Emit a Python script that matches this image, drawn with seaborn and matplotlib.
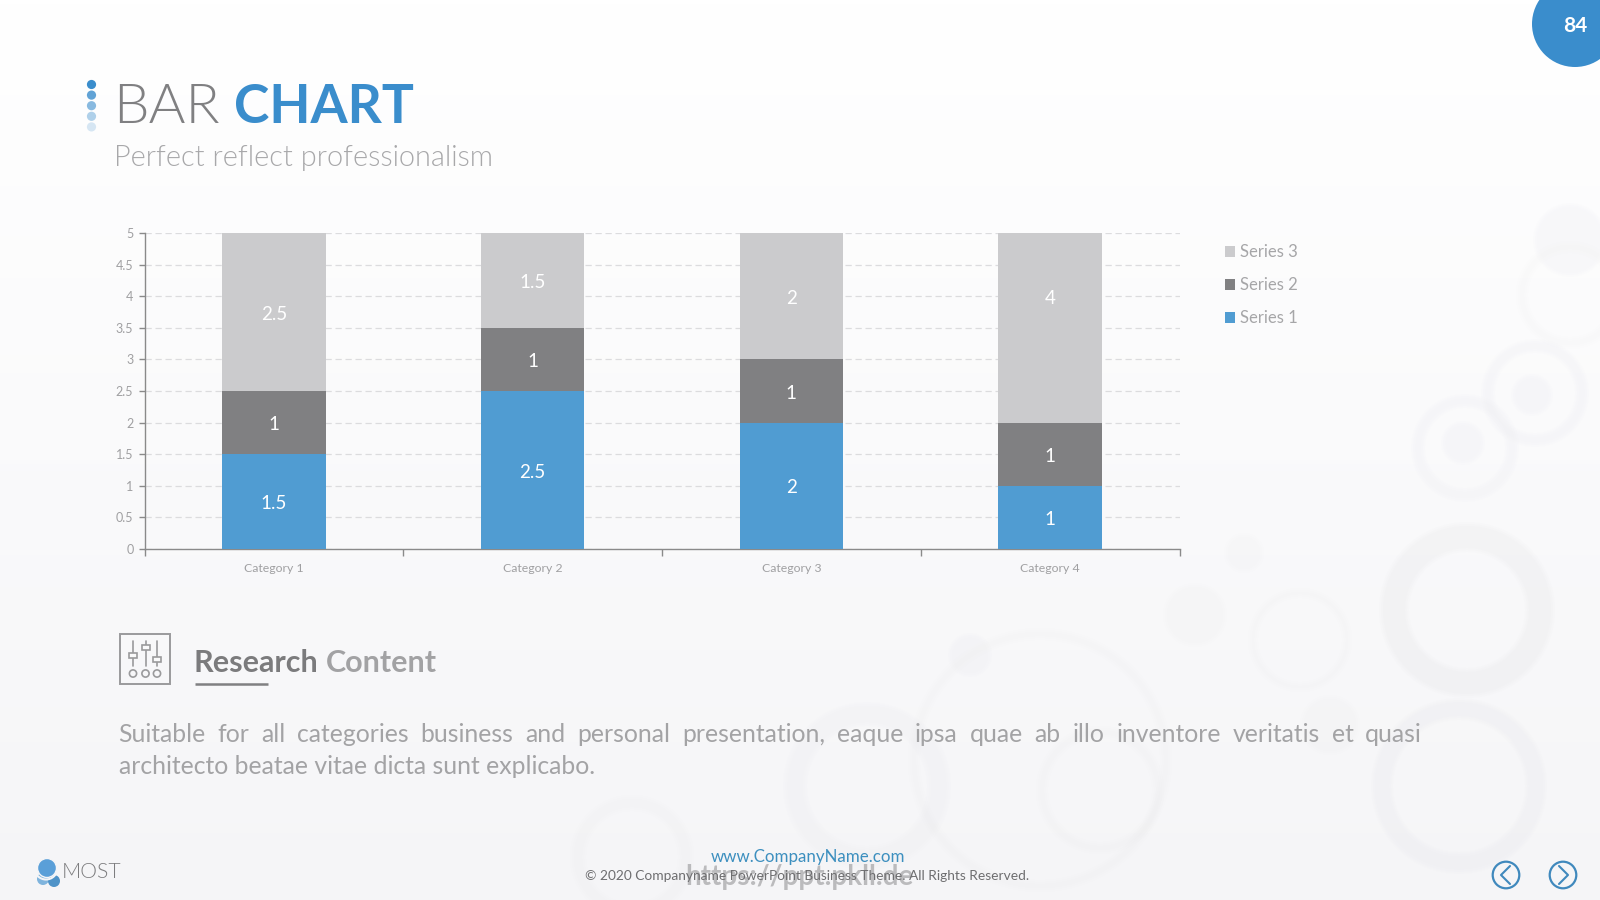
import numpy as np
import pandas as pd
import matplotlib
matplotlib.use("Agg")
import matplotlib.pyplot as plt
from matplotlib.patches import Circle, Wedge, Rectangle, Patch, Arc
import seaborn as sns

categories = ["Category 1", "Category 2", "Category 3", "Category 4"]
series_1 = [1.5, 2.5, 2, 1]
series_2 = [1, 1, 1, 1]
series_3 = [2.5, 1.5, 2, 4]
series_names = ["Series 1", "Series 2", "Series 3"]
y_ticks = [0, 0.5, 1, 1.5, 2, 2.5, 3, 3.5, 4, 4.5, 5]

BLUE = "#509cd2"
DARK = "#808082"
LIGHT = "#cbcbcd"
ACCENT = "#3a8dcc"
FONT = "Lato"
THIN = 300

sns.set_theme(style="white")
plt.rcParams["font.family"] = [FONT, "DejaVu Sans"]

fig = plt.figure(figsize=(16, 9), dpi=100, facecolor="white")

# Slide layer, addressed in pixels from the top-left corner
bg = fig.add_axes([0, 0, 1, 1], zorder=0)
bg.set_xlim(0, 1600)
bg.set_ylim(900, 0)
bg.axis("off")

shade = np.linspace(0, 1, 256).reshape(-1, 1)
base = np.ones((256, 1, 3)) - shade[..., None] * np.array([0.038, 0.038, 0.030])
bg.imshow(base, extent=(0, 1600, 900, 0), aspect="auto", zorder=0)

RING = "#e6e6ea"


def ring(cx, cy, outer, inner, alpha=0.18):
    # Three nested layers keep the edges soft
    for grow in (-2, 0, 2):
        bg.add_patch(Wedge((cx, cy), outer + grow, 0, 360, width=outer - inner + 2 * grow,
                           fc=RING, ec="none", alpha=alpha / 3, zorder=1))


def disk(cx, cy, r, alpha=0.18):
    for grow in (-2, 0, 2):
        bg.add_patch(Circle((cx, cy), r + grow, fc=RING, ec="none", alpha=alpha / 3, zorder=1))


# Soft bubble pattern behind the lower right of the slide
ring(1535, 393, 52, 42); disk(1532, 395, 19)
ring(1465, 448, 52, 42); disk(1463, 443, 20)
ring(1467, 610, 86, 60, 0.28)
ring(1459, 786, 86, 68, 0.24)
ring(1300, 640, 50, 44, 0.12)
ring(867, 786, 82, 62, 0.2)
ring(1100, 790, 62, 54, 0.1)
ring(632, 857, 60, 48, 0.13)
ring(1570, 295, 52, 44, 0.12)
ring(1040, 760, 130, 122, 0.07)
disk(1570, 240, 35, 0.16)
disk(970, 655, 20, 0.2)
disk(1244, 553, 18, 0.14)
disk(1195, 615, 30, 0.1)
disk(1330, 725, 28, 0.1)

# Stacked bars
chart = fig.add_axes([144.5 / 1600, (900 - 549) / 900, 1035 / 1600, 316 / 900], zorder=2)
chart.patch.set_alpha(0)
frame = pd.DataFrame({"category": categories, "Series 1": series_1,
                      "Series 2": series_2, "Series 3": series_3})
lower = np.zeros(len(categories))
for name, colour in zip(series_names, [BLUE, DARK, LIGHT]):
    sns.barplot(data=frame, x="category", y=name, color=colour, saturation=1,
                width=0.4, bottom=lower, ax=chart, linewidth=0, zorder=3)
    # Value sits at the centre of the full segment, even where the axis cuts it off
    for bar, value in zip(chart.containers[-1], frame[name]):
        chart.annotate(f"{value:g}",
                       (bar.get_x() + bar.get_width() / 2, bar.get_y() + bar.get_height() / 2),
                       xytext=(0, -1.5), textcoords="offset points", ha="center", va="center",
                       color="white", fontsize=13.5, zorder=4, annotation_clip=False)
    lower = lower + frame[name].to_numpy()

chart.set_xlim(-0.5, 3.5)
chart.set_ylim(0, 5)
chart.set_xlabel("")
chart.set_ylabel("")
chart.set_yticks(y_ticks)
chart.set_yticklabels([f"{v:g}" for v in y_ticks])
chart.set_xticks(range(len(categories)))
chart.set_xticks(np.arange(-0.5, 4), minor=True)
chart.tick_params(axis="x", which="major", length=0, pad=10, labelsize=8.8, labelcolor="#a0a0a2")
chart.tick_params(axis="x", which="minor", length=5, width=1, color="#8a8a8a", bottom=True)
chart.tick_params(axis="y", length=4, width=1, color="#8a8a8a", pad=4, labelsize=9,
                  labelcolor="#a0a0a2", left=True)
chart.yaxis.grid(True, color="#dcdcde", linestyle=(0, (5, 3)), linewidth=0.9)
chart.set_axisbelow(True)
for side in ("top", "right"):
    chart.spines[side].set_visible(False)
for side in ("left", "bottom"):
    chart.spines[side].set_color("#8a8a8a")
    chart.spines[side].set_linewidth(1)

handles = [Patch(fc=c, ec="none", label=n) for c, n in
           zip([LIGHT, DARK, BLUE], series_names[::-1])]
fig.legend(handles=handles, loc="upper left", frameon=False,
           bbox_to_anchor=(1225 / 1600, 1 - 244 / 900), bbox_transform=fig.transFigure,
           fontsize=12, labelcolor="#a6a6a8", handlelength=0.62, handleheight=0.62,
           handletextpad=0.25, labelspacing=1.03, borderpad=0, borderaxespad=0)

renderer = fig.canvas.get_renderer()


def run(x, y, text, **kw):
    t = bg.text(x, y, text, va="baseline", ha="left", zorder=6, **kw)
    return t, t.get_window_extent(renderer).width


def justified(x0, x1, y, line, **kw):
    words = line.split()
    placed = [run(0, y, w, **kw) for w in words]
    used = sum(w for _, w in placed)
    gap = (x1 - x0 - used) / (len(words) - 1)
    x = x0
    for t, w in placed:
        t.set_x(x)
        x += w + gap


# Heading with its fading dots
for i, a in enumerate([1.0, 0.8, 0.6, 0.4, 0.2]):
    bg.add_patch(Circle((91.5, 84.5 + i * 10.6), 4.6, fc=ACCENT, ec="none", alpha=a, zorder=5))
run(113, 123, "BAR", fontsize=40.5, color="#808082", fontweight=THIN)
run(234, 123, "CHART", fontsize=38.5, color=ACCENT, fontweight="bold")
run(114, 166, "Perfect reflect professionalism", fontsize=20.8, color="#a8a8aa", fontweight=THIN)

# Page number badge
bg.add_patch(Circle((1575, 24), 43, fc=ACCENT, ec="none", zorder=5))
bg.text(1575, 26, "84", color="white", fontsize=15, fontweight="bold",
        ha="center", va="center", zorder=6)

# Section heading and its equaliser icon
bg.add_patch(Rectangle((120, 634), 50, 50, fc="none", ec="#9a9a9c", lw=1.4, zorder=5))
for x, knob in [(133, 655), (145.5, 647), (157, 659)]:
    bg.plot([x, x], [641, 666], color="#9a9a9c", lw=1.2, zorder=5)
    bg.add_patch(Rectangle((x - 4, knob - 2.5), 8, 5, fc="#fafafb", ec="#9a9a9c", lw=1.2, zorder=6))
    bg.add_patch(Circle((x, 673.5), 3.6, fc="none", ec="#9a9a9c", lw=1.2, zorder=6))
_, w = run(193, 672, "Research", fontsize=22, color="#7b7b7d", fontweight="bold")
run(193 + w + 8, 672, "Content", fontsize=22, color="#a2a2a4", fontweight="bold")
bg.plot([195, 268], [683.5, 683.5], color="#808082", lw=1.8, zorder=5, solid_capstyle="butt")

# Body copy
body = dict(fontsize=17.85, color="#a3a3a5")
justified(118, 1422, 742,
          "Suitable for all categories business and personal presentation, eaque ipsa "
          "quae ab illo inventore veritatis et quasi", **body)
run(119, 774, "architecto beatae vitae dicta sunt explicabo.", **body)

# Footer
bg.text(807.5, 857, "www.CompanyName.com", color="#3c8fbf", fontsize=12.2, ha="center",
        va="center", zorder=6)
bg.text(799, 877, "https://ppt.pkll.de", color="#8c8c8e", alpha=0.55, fontsize=20,
        fontweight="bold", ha="center", va="center", zorder=5)
bg.text(807.5, 876, "© 2020 Companyname PowerPoint Business Theme. All Rights Reserved.",
        color="#6e6e70", fontsize=9.95, ha="center", va="center", zorder=6)

# Company mark and name
bg.add_patch(Circle((43, 879), 6, fc="#7fb4dd", ec="none", zorder=5))
bg.add_patch(Circle((54, 881), 6, fc="#4f93c8", ec="none", zorder=5))
bg.add_patch(Arc((46, 868), 23, 23, theta1=0, theta2=180, color="#f5f5f7", lw=1.5, zorder=6))
bg.add_patch(Circle((47, 868), 9.5, fc="#5a9fd8", ec="#f5f5f7", lw=1, zorder=6))
run(62, 878, "MOST", fontsize=15.2, color="#7d7d7f", fontweight=THIN)

# Previous and next arrows
for cx, d in [(1506, -1), (1563, 1)]:
    bg.add_patch(Circle((cx, 875), 13.3, fc="none", ec="#4089bd", lw=1.6, zorder=6))
    bg.plot([cx - d * 4, cx + d * 5, cx - d * 4], [866, 875, 884], color="#4089bd",
            lw=1.5, zorder=6)

fig.savefig("out.png", dpi=100)
